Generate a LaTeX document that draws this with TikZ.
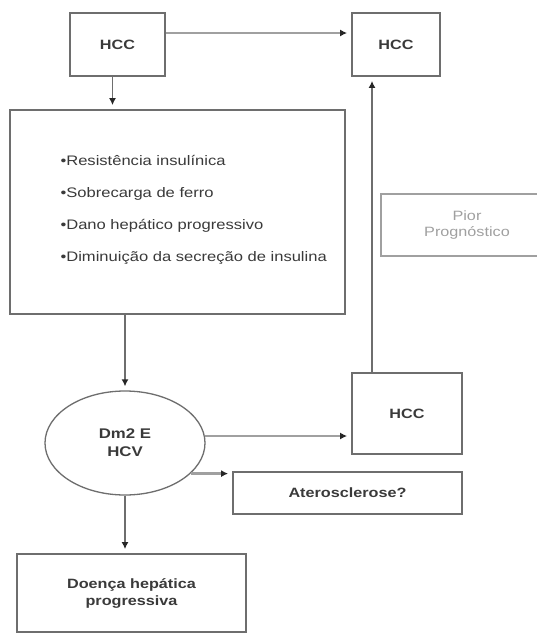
\documentclass[tikz,border=0pt]{standalone}
\usepackage{fontspec}
\setmainfont{Liberation Sans}[FakeStretch=1.2]
\usetikzlibrary{shapes.geometric,arrows.meta}

\definecolor{boxgray}{HTML}{6E6E6E}
\definecolor{linegray}{HTML}{A0A0A0}
\definecolor{textgray}{HTML}{3A3A3A}

\tikzset{
	box/.style={draw=boxgray, line width=1.8pt, inner sep=0pt, font=\fontsize{13.5}{17}\selectfont\bfseries, text=textgray, align=center},
	flow/.style={draw=linegray, line width=2.6pt, -{Latex[length=7pt,width=7pt,color=black!85]}, shorten >=4pt},
	vflow/.style={draw=boxgray, line width=1.7pt, -{Latex[length=7pt,width=7pt,color=black!85]}, shorten >=4pt}
}

\begin{document}
\begin{tikzpicture}[x=1pt,y=-1pt]

	\useasboundingbox[fill=white] (0,0) rectangle (537,633);

	\node (h1) [box, minimum width=95pt, minimum height=63pt] at (117.5, 44.5) {HCC};
	\node (h2) [box, minimum width=88pt, minimum height=63pt] at (396, 44.5) {HCC};
	\node (big) [box, minimum width=335pt, minimum height=204pt] at (177.5, 212) {};
	\node (pior) [box, draw=linegray, font=\fontsize{13.5}{16}\selectfont, text=linegray, minimum width=172pt, minimum height=62pt] at (467, 225) {Pior\\Prognóstico};
	\node (dm) [ellipse, draw=boxgray, line width=1.3pt, minimum width=160pt, minimum height=104pt, font=\fontsize{14}{18}\selectfont\bfseries, text=textgray, align=center] at (125, 443) {Dm2 E\\HCV};
	\node (h3) [box, minimum width=110pt, minimum height=81pt] at (407, 413.5) {HCC};
	\node (ath) [box, minimum width=229pt, minimum height=42pt] at (347.5, 493) {Aterosclerose?};
	\node (doenca) [box, minimum width=229pt, minimum height=78pt] at (131.5, 593) {Doença hepática\\progressiva};

	\node (fatores) [anchor=west, align=left, text=textgray, font=\fontsize{13.8}{32}\selectfont] at (57, 209.5)
	{•Resistência insulínica\\
	 •Sobrecarga de ferro\\
	 •Dano hepático progressivo\\
	 •Diminuição da secreção de insulina};

	\draw[flow] ([yshift=11.5pt]h1.east) -- ([yshift=11.5pt]h1.east -| h2.west);
	\draw[vflow] ([xshift=-5pt]h1.south) -- ([xshift=-5pt]h1.south |- big.north);
	\draw[vflow] (dm.north |- big.south) -- (dm.north);
	\draw[flow] (dm.5) -- (dm.5 -| h3.west);
	\draw[vflow] ([xshift=-35pt]h3.north) -- ([xshift=-35pt]h3.north |- h2.south);
	\draw[flow] (dm.-25) -- (dm.-25 -| ath.west);
	\draw[vflow] (dm.south) -- (dm.south |- doenca.north);

\end{tikzpicture}
\end{document}
